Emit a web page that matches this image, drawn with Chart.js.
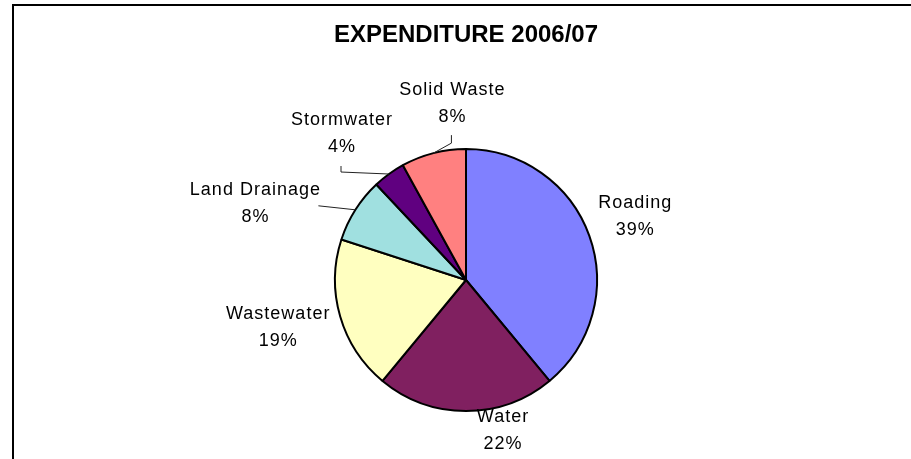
<!DOCTYPE html>
<html>
<head>
<meta charset="utf-8">
<script src="https://cdn.jsdelivr.net/npm/chart.js@4"></script>
<style>
  body { margin: 0; background: #fff; }
  #wrap { position: relative; width: 911px; height: 459px; }
  #frame { position: absolute; left: 12px; top: 4px; right: 0; bottom: 0; border-top: 2px solid #000; border-left: 2px solid #000; pointer-events: none; }
</style>
</head>
<body>
<div id="wrap">
  <canvas id="pie" width="911" height="459"></canvas>
  <div id="frame"></div>
</div>
<script>
const categories = ["Roading", "Water", "Wastewater", "Land Drainage", "Stormwater", "Solid Waste"];
const shares = [39, 22, 19, 8, 4, 8];
const colours = ["#8080FF", "#802060", "#FFFFC0", "#A0E0E0", "#600080", "#FF8080"];

// where each label sits relative to the middle of its slice's rim, plus optional leader line
const labelOffsets = [[46, -19], [37, 20], [-62, 11], [-100, -6], [-47, -40], [19, -50]];
const leaders = [null, null, null, [[63, 2]], [[-1, 32], [-1, 38]], [[-1, 32], [-1, 40]]];

const labelFont = '18px "Liberation Sans", Arial, sans-serif';

const sliceLabels = {
  id: 'sliceLabels',
  afterDatasetsDraw(chart) {
    const ctx = chart.ctx;
    const arcs = chart.getDatasetMeta(0).data;
    ctx.save();
    arcs.forEach((arc, i) => {
      const p = arc.getProps(['x', 'y', 'startAngle', 'endAngle', 'outerRadius'], true);
      const mid = (p.startAngle + p.endAngle) / 2;
      const ex = p.x + Math.cos(mid) * p.outerRadius;
      const ey = p.y + Math.sin(mid) * p.outerRadius;
      const lx = ex + labelOffsets[i][0];
      const ly = ey + labelOffsets[i][1];

      if (leaders[i]) {
        ctx.strokeStyle = '#222';
        ctx.lineWidth = 1;
        ctx.beginPath();
        leaders[i].forEach((pt, k) => {
          if (k === 0) ctx.moveTo(lx + pt[0], ly + pt[1]);
          else ctx.lineTo(lx + pt[0], ly + pt[1]);
        });
        ctx.lineTo(ex, ey);
        ctx.stroke();
      }

      ctx.fillStyle = '#000';
      ctx.font = labelFont;
      ctx.letterSpacing = '1px';
      ctx.textAlign = 'center';
      ctx.textBaseline = 'middle';
      ctx.fillText(categories[i], lx, ly - 13.5);
      ctx.fillText(shares[i] + '%', lx, ly + 13.5);
    });
    ctx.restore();
  }
};

new Chart(document.getElementById('pie'), {
  type: 'pie',
  data: {
    labels: categories,
    datasets: [{
      data: shares,
      backgroundColor: colours,
      borderColor: '#000',
      borderWidth: 2
    }]
  },
  options: {
    responsive: false,
    animation: false,
    events: [],
    layout: { padding: { top: 0, left: 334, right: 313, bottom: 47 } },
    plugins: {
      legend: { display: false },
      tooltip: { enabled: false },
      title: {
        display: true,
        text: 'EXPENDITURE 2006/07',
        color: '#000',
        font: { family: '"Liberation Sans", Arial, sans-serif', size: 24.5, weight: 'bold', lineHeight: 1.2 },
        padding: { top: 20.3, bottom: 98.3 }
      }
    }
  },
  plugins: [sliceLabels]
});
</script>
</body>
</html>
